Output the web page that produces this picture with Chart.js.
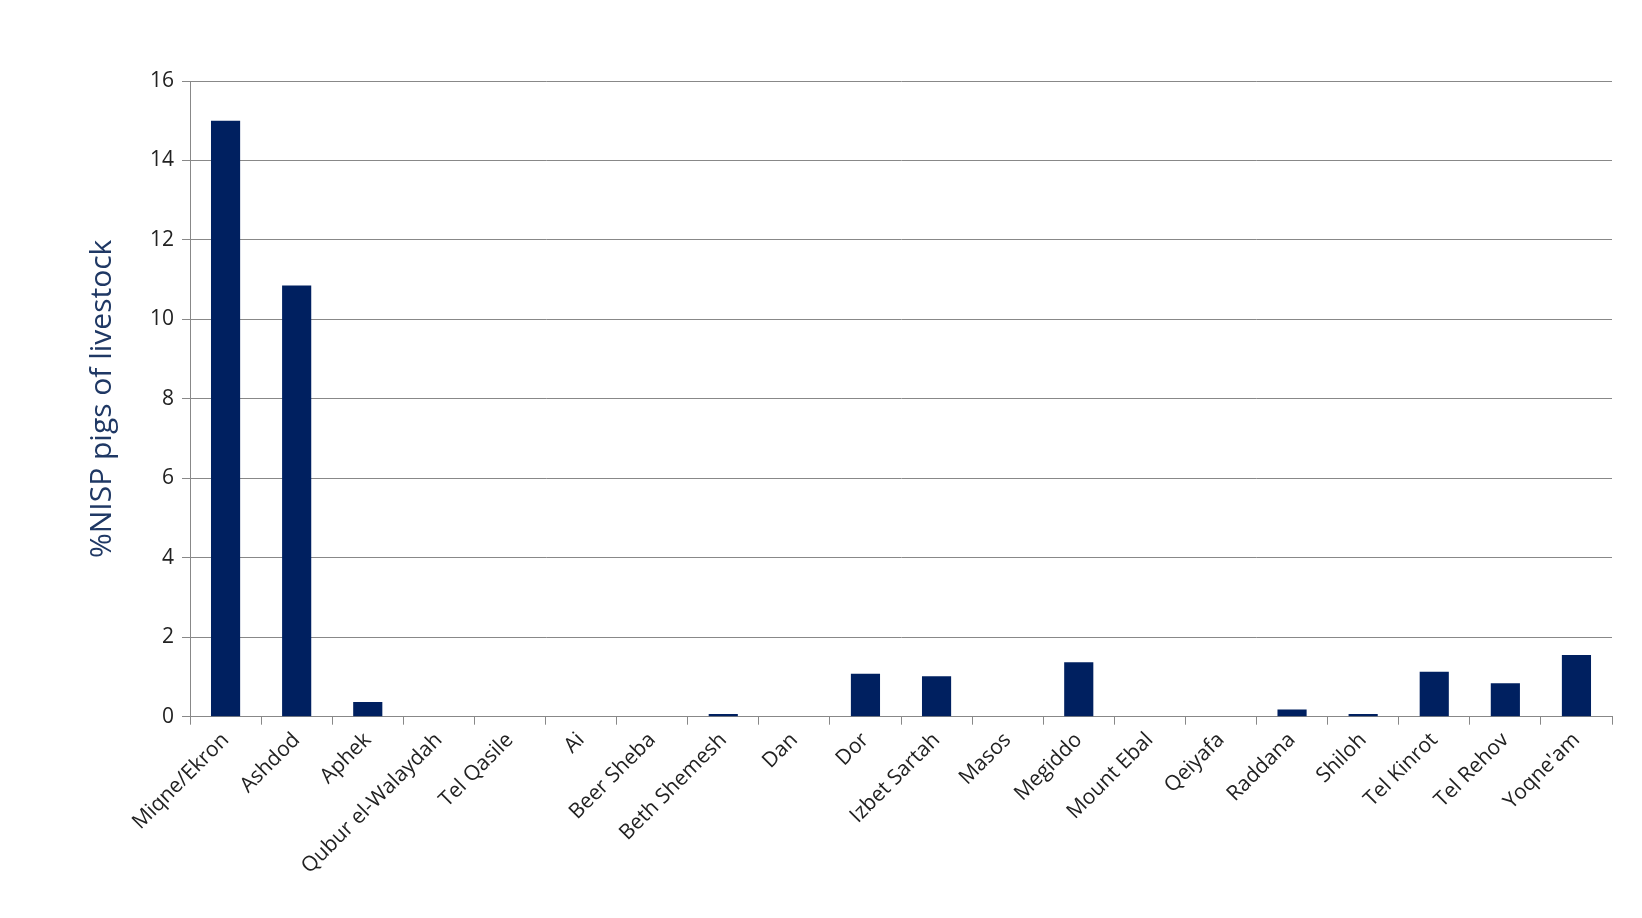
<!DOCTYPE html>
<html><head><meta charset="utf-8">
<script src="https://cdn.jsdelivr.net/npm/chart.js@4"></script>
<style>html,body{margin:0;padding:0;background:#fff}#w{width:1642px;height:918px}</style>
</head><body><div id="w"><canvas id="c"></canvas></div>
<script>
const categories = ["Miqne/Ekron","Ashdod","Aphek","Qubur el-Walaydah","Tel Qasile","Ai","Beer Sheba","Beth Shemesh","Dan","Dor","Izbet Sartah","Masos","Megiddo","Mount Ebal","Qeiyafa","Raddana","Shiloh","Tel Kinrot","Tel Rehov","Yoqne'am"];
const pigPercent = [15,10.85,0.37,0,0,0,0,0.07,0,1.08,1.02,0,1.37,0,0,0.18,0.07,1.13,0.84,1.55];
const yTicks = [0,2,4,6,8,10,12,14,16];
new Chart(document.getElementById('c'),{
  type:'bar',
  data:{labels:categories,datasets:[{data:pigPercent,backgroundColor:'#002060',barPercentage:0.41,categoryPercentage:1}]},
  options:{
    responsive:true,maintainAspectRatio:false,animation:false,
    layout:{padding:{left:80,right:30,top:81,bottom:36}},
    plugins:{legend:{display:false},tooltip:{enabled:false}},
    scales:{
      x:{grid:{display:true,drawOnChartArea:false,color:'#888',tickLength:8,offset:true},
         border:{color:'#888'},
         ticks:{minRotation:45,maxRotation:45,color:'#222',font:{family:'Open Sans',size:21}}},
      y:{min:0,max:16,afterBuildTicks:s=>{s.ticks=yTicks.map(v=>({value:v}))},
         grid:{color:'#888',tickLength:8},border:{color:'#888'},
         ticks:{color:'#222',font:{family:'Open Sans',size:21},padding:8},
         title:{display:true,text:'%NISP pigs of livestock',color:'#1f3864',font:{family:'Open Sans',size:30},padding:{bottom:22}}}
    }
  }
});
</script></body></html>
